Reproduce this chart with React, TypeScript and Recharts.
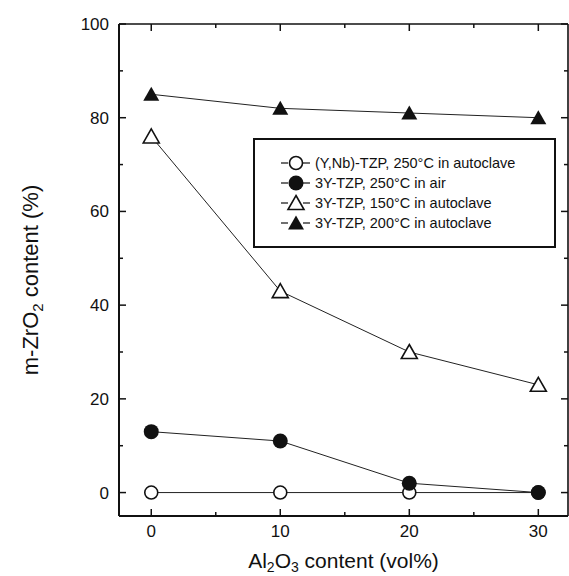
import React from 'react';
import { LineChart, Line, XAxis, YAxis } from 'recharts';

// Al2O3 content (vol%)
const alumina = [0, 10, 20, 30];
// m-ZrO2 content (%) per condition
const ynbTzp250Autoclave = [0, 0, 0, 0];
const tzp250Air = [13, 11, 2, 0];
const tzp150Autoclave = [76, 43, 30, 23];
const tzp200Autoclave = [85, 82, 81, 80];

const seriesNames = [
  '(Y,Nb)-TZP, 250°C in autoclave',
  '3Y-TZP, 250°C in air',
  '3Y-TZP, 150°C in autoclave',
  '3Y-TZP, 200°C in autoclave',
];

const xTicks = [0, 5, 10, 15, 20, 25, 30];
const xLabels = [0, 10, 20, 30];
const yTicks = [0, 10, 20, 30, 40, 50, 60, 70, 80, 90, 100];
const yLabels = [0, 20, 40, 60, 80, 100];

const data = alumina.map((x, i) => ({
  x,
  ynb: ynbTzp250Autoclave[i],
  air: tzp250Air[i],
  a150: tzp150Autoclave[i],
  a200: tzp200Autoclave[i],
}));

const FONT = '"Liberation Sans", Arial, Helvetica, sans-serif';
const INK = '#111';

type Mark = 'openCircle' | 'circle' | 'openTriangle' | 'triangle';

function Marker({ cx, cy, mark }: { cx: number; cy: number; mark: Mark }) {
  if (mark === 'openCircle') {
    return <circle cx={cx} cy={cy} r={6.5} fill="#fff" stroke={INK} strokeWidth={1.6} />;
  }
  if (mark === 'circle') {
    return <circle cx={cx} cy={cy} r={7.5} fill={INK} />;
  }
  const pts = `${cx},${cy - 7.5} ${cx + 8},${cy + 6.5} ${cx - 8},${cy + 6.5}`;
  if (mark === 'openTriangle') {
    return <polygon points={pts} fill="#fff" stroke={INK} strokeWidth={1.6} strokeLinejoin="miter" />;
  }
  return <polygon points={pts} fill={INK} />;
}

const dotFor = (mark: Mark) => (props: any) => (
  <Marker key={`${mark}-${props.index}`} cx={props.cx} cy={props.cy} mark={mark} />
);

function BottomTick({ x, y, payload }: any) {
  const major = xLabels.includes(payload.value);
  return (
    <g>
      <line x1={x} y1={y} x2={x} y2={y - (major ? 7 : 4)} stroke={INK} strokeWidth={1.5} />
      {major && (
        <text x={x} y={y + 21} textAnchor="middle" fontSize={17} fontFamily={FONT} fill={INK}>
          {payload.value}
        </text>
      )}
    </g>
  );
}

function TopTick({ x, y, payload }: any) {
  const major = xLabels.includes(payload.value);
  return <line x1={x} y1={y} x2={x} y2={y + (major ? 7 : 4)} stroke={INK} strokeWidth={1.5} />;
}

function LeftTick({ x, y, payload }: any) {
  const major = yLabels.includes(payload.value);
  return (
    <g>
      <line x1={x} y1={y} x2={x + (major ? 7 : 4)} y2={y} stroke={INK} strokeWidth={1.5} />
      {major && (
        <text x={x - 10} y={y + 6} textAnchor="end" fontSize={17} fontFamily={FONT} fill={INK}>
          {payload.value}
        </text>
      )}
    </g>
  );
}

function RightTick({ x, y, payload }: any) {
  const major = yLabels.includes(payload.value);
  return <line x1={x} y1={y} x2={x - (major ? 7 : 4)} y2={y} stroke={INK} strokeWidth={1.5} />;
}

function XTitle({ viewBox }: any) {
  const cx = viewBox.x + viewBox.width / 2;
  return (
    <text x={cx} y={568} textAnchor="middle" fontSize={21} fontFamily={FONT} fill={INK}>
      Al<tspan fontSize={14} dy={4}>2</tspan>
      <tspan dy={-4}>O</tspan>
      <tspan fontSize={14} dy={4}>3</tspan>
      <tspan dy={-4}> content (vol%)</tspan>
    </text>
  );
}

function YTitle({ viewBox }: any) {
  const cy = viewBox.y + viewBox.height / 2 + 10;
  return (
    <text
      x={38}
      y={cy}
      transform={`rotate(-90 38 ${cy})`}
      textAnchor="middle"
      fontSize={22}
      fontFamily={FONT}
      fill={INK}
    >
      m-ZrO<tspan fontSize={15} dy={5}>2</tspan>
      <tspan dy={-5}> content (%)</tspan>
    </text>
  );
}

const legendMarks: Mark[] = ['openCircle', 'circle', 'openTriangle', 'triangle'];

function LegendBox() {
  return (
    <div
      style={{
        position: 'absolute',
        left: 253,
        top: 138,
        width: 303,
        height: 110,
        boxSizing: 'border-box',
        border: `2px solid ${INK}`,
        background: '#fff',
        paddingTop: 13,
        paddingLeft: 26,
        fontFamily: FONT,
        fontSize: 14.5,
        color: INK,
      }}
    >
      {seriesNames.map((name, i) => (
        <div key={name} style={{ display: 'flex', alignItems: 'center', height: 20 }}>
          <svg width={30} height={20} style={{ flex: 'none' }}>
            <line x1={0} y1={10} x2={7} y2={10} stroke={INK} strokeWidth={1.2} />
            <line x1={22} y1={10} x2={29} y2={10} stroke={INK} strokeWidth={1.2} />
            <Marker cx={15} cy={10} mark={legendMarks[i]} />
          </svg>
          <span style={{ whiteSpace: 'nowrap', marginLeft: 4 }}>{name}</span>
        </div>
      ))}
    </div>
  );
}

export default function App() {
  const domainX: [number, number] = [-2.5, 32.3];
  const domainY: [number, number] = [-5, 100];
  return (
    <div style={{ position: 'absolute', left: 0, top: 0, width: 569, height: 576, background: '#fff' }}>
      <LineChart width={569} height={576} data={data} margin={{ top: 23, right: 0, bottom: 59, left: 118 }}>
        <XAxis
          xAxisId="main"
          dataKey="x"
          type="number"
          domain={domainX}
          allowDataOverflow
          ticks={xTicks}
          interval={0}
          height={1}
          tickSize={0}
          tickMargin={0}
          tickLine={false}
          tick={<BottomTick />}
          axisLine={{ stroke: INK, strokeWidth: 2 }}
          label={<XTitle />}
        />
        <XAxis
          xAxisId="top"
          orientation="top"
          dataKey="x"
          type="number"
          domain={domainX}
          allowDataOverflow
          ticks={xTicks}
          interval={0}
          height={1}
          tickSize={0}
          tickMargin={0}
          tickLine={false}
          tick={<TopTick />}
          axisLine={{ stroke: INK, strokeWidth: 1.6 }}
        />
        <YAxis
          yAxisId="left"
          type="number"
          domain={domainY}
          allowDataOverflow
          ticks={yTicks}
          interval={0}
          width={1}
          tickSize={0}
          tickMargin={0}
          tickLine={false}
          tick={<LeftTick />}
          axisLine={{ stroke: INK, strokeWidth: 2 }}
          label={<YTitle />}
        />
        <YAxis
          yAxisId="right"
          orientation="right"
          type="number"
          domain={domainY}
          allowDataOverflow
          ticks={yTicks}
          interval={0}
          width={1}
          tickSize={0}
          tickMargin={0}
          tickLine={false}
          tick={<RightTick />}
          axisLine={{ stroke: INK, strokeWidth: 1.6 }}
        />
        <Line xAxisId="main" yAxisId="left" type="linear" dataKey="ynb" stroke="#222" strokeWidth={1}
          dot={dotFor('openCircle')} activeDot={false} isAnimationActive={false} />
        <Line xAxisId="main" yAxisId="left" type="linear" dataKey="air" stroke="#222" strokeWidth={1}
          dot={dotFor('circle')} activeDot={false} isAnimationActive={false} />
        <Line xAxisId="main" yAxisId="left" type="linear" dataKey="a150" stroke="#222" strokeWidth={1}
          dot={dotFor('openTriangle')} activeDot={false} isAnimationActive={false} />
        <Line xAxisId="main" yAxisId="left" type="linear" dataKey="a200" stroke="#222" strokeWidth={1}
          dot={dotFor('triangle')} activeDot={false} isAnimationActive={false} />
      </LineChart>
      <LegendBox />
    </div>
  );
}
